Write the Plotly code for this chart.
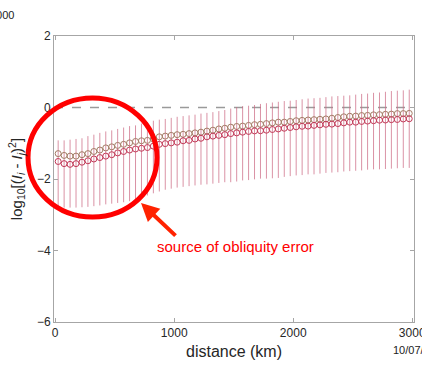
import plotly.graph_objects as go

distance_km = [25, 75, 125, 175, 225, 275, 325, 375, 425, 475,
               525, 575, 625, 675, 725, 775, 825, 875, 925, 975,
               1025, 1075, 1125, 1175, 1225, 1275, 1325, 1375, 1425, 1475,
               1525, 1575, 1625, 1675, 1725, 1775, 1825, 1875, 1925, 1975,
               2025, 2075, 2125, 2175, 2225, 2275, 2325, 2375, 2425, 2475,
               2525, 2575, 2625, 2675, 2725, 2775, 2825, 2875, 2925, 2975]

tan_series = [-1.29, -1.34, -1.36, -1.36, -1.32, -1.29, -1.23, -1.19, -1.13, -1.10,
              -1.06, -1.03, -0.99, -0.95, -0.93, -0.92, -0.88, -0.82, -0.80, -0.78,
              -0.76, -0.75, -0.73, -0.71, -0.69, -0.66, -0.635, -0.60, -0.58, -0.55,
              -0.53, -0.52, -0.50, -0.48, -0.47, -0.45, -0.43, -0.41, -0.41, -0.39,
              -0.37, -0.36, -0.35, -0.34, -0.33, -0.32, -0.30, -0.28, -0.26, -0.245,
              -0.24, -0.225, -0.22, -0.205, -0.20, -0.19, -0.185, -0.17, -0.17, -0.165]

red_series = [-1.51, -1.57, -1.59, -1.57, -1.53, -1.49, -1.44, -1.40, -1.36, -1.32,
              -1.27, -1.23, -1.19, -1.16, -1.14, -1.12, -1.08, -1.03, -1.01, -0.99,
              -0.97, -0.93, -0.92, -0.88, -0.86, -0.82, -0.80, -0.78, -0.76, -0.73,
              -0.71, -0.69, -0.67, -0.655, -0.65, -0.635, -0.615, -0.60, -0.58, -0.56,
              -0.54, -0.525, -0.52, -0.50, -0.485, -0.47, -0.465, -0.45, -0.43, -0.41,
              -0.41, -0.39, -0.38, -0.37, -0.355, -0.35, -0.34, -0.335, -0.32, -0.315]

bar_high = [-0.92, -0.92, -0.90, -0.88, -0.86, -0.80, -0.76, -0.71, -0.67, -0.64,
            -0.60, -0.56, -0.52, -0.50, -0.45, -0.41, -0.37, -0.34, -0.32, -0.29,
            -0.26, -0.24, -0.22, -0.20, -0.17, -0.15, -0.13, -0.10, -0.07, -0.03,
            0.01, 0.04, 0.05, 0.07, 0.10, 0.12, 0.14, 0.16, 0.18, 0.19,
            0.21, 0.23, 0.25, 0.26, 0.27, 0.29, 0.31, 0.32, 0.33, 0.34,
            0.36, 0.38, 0.39, 0.41, 0.42, 0.44, 0.46, 0.47, 0.48, 0.50]

bar_low = [-2.80, -2.80, -2.80, -2.80, -2.79, -2.78, -2.76, -2.74, -2.71, -2.69,
           -2.67, -2.65, -2.62, -2.57, -2.53, -2.46, -2.40, -2.35, -2.30, -2.27,
           -2.24, -2.22, -2.20, -2.18, -2.16, -2.15, -2.13, -2.11, -2.09, -2.09,
           -2.07, -2.04, -2.03, -2.01, -1.99, -1.99, -1.98, -1.97, -1.94, -1.92,
           -1.90, -1.89, -1.87, -1.87, -1.85, -1.83, -1.82, -1.81, -1.79, -1.78,
           -1.77, -1.76, -1.74, -1.73, -1.73, -1.72, -1.71, -1.70, -1.69, -1.69]

x_ticks = [0, 1000, 2000, 3000]
y_ticks = [-6, -4, -2, 0, 2]

FONT = "Liberation Sans, Arial, sans-serif"
AXIS_GREY = "#a6a6a6"

err_plus = [h - r for h, r in zip(bar_high, red_series)]
err_minus = [r - l for r, l in zip(red_series, bar_low)]

fig = go.Figure()

# spread bars (drawn first, under the markers)
fig.add_trace(go.Scatter(
    x=distance_km, y=red_series, mode="markers",
    marker=dict(size=1, opacity=0),
    error_y=dict(type="data", symmetric=False, array=err_plus, arrayminus=err_minus,
                 color="rgba(205,110,135,0.75)", thickness=1, width=0),
    hoverinfo="skip", showlegend=False,
))

fig.add_trace(go.Scatter(
    x=distance_km, y=tan_series, mode="markers",
    marker=dict(symbol="circle-open", size=6, color="#a47c66", line=dict(width=1)),
    showlegend=False,
))

fig.add_trace(go.Scatter(
    x=distance_km, y=red_series, mode="markers",
    marker=dict(symbol="circle-open", size=6, color="#c23a58", line=dict(width=1)),
    showlegend=False,
))

# zero reference line
fig.add_shape(type="line", xref="paper", x0=0, x1=1, yref="y", y0=0, y1=0,
              line=dict(color="#9a9a9a", width=1.5, dash="dash"), layer="below")

# red highlight circle (paper coordinates)
L, R, T, B = 54, 414, 36, 322
def px(xp): return (xp - L) / (R - L)
def py(yp): return (B - yp) / (B - T)

fig.add_shape(type="circle", xref="paper", yref="paper",
              x0=px(28), x1=px(157), y0=py(217), y1=py(98),
              line=dict(color="#ff0000", width=5))

# arrow
fig.add_annotation(xref="paper", yref="paper", x=px(141), y=py(203),
                   ax=36, ay=34, axref="pixel", ayref="pixel",
                   text="", showarrow=True, arrowhead=2, arrowsize=0.9,
                   arrowwidth=4, arrowcolor="#ff2200")

fig.add_annotation(xref="paper", yref="paper", x=px(155), y=py(246),
                   xanchor="left", yanchor="middle", showarrow=False,
                   text="source of obliquity error",
                   font=dict(family=FONT, size=15, color="#ff0000"))

# clipped corner texts from neighbouring panels
fig.add_annotation(xref="paper", yref="paper", x=px(16), y=py(15),
                   xanchor="right", yanchor="middle", showarrow=False,
                   text="3000", font=dict(family=FONT, size=11, color="#222222"))
fig.add_annotation(xref="paper", yref="paper", x=px(391), y=py(350),
                   xanchor="left", yanchor="middle", showarrow=False,
                   text="10/07/2015", font=dict(family=FONT, size=11, color="#222222"))

fig.update_layout(
    width=422, height=370,
    margin=dict(l=L, r=422 - R, t=T, b=370 - B, autoexpand=False),
    paper_bgcolor="white", plot_bgcolor="white",
    font=dict(family=FONT, size=12, color="#262626"),
    xaxis=dict(range=[-10, 3015], tickvals=x_ticks, ticks="inside", ticklen=4,
               tickcolor=AXIS_GREY, showline=True, linecolor=AXIS_GREY, linewidth=1,
               mirror="ticks", showgrid=False, zeroline=False,
               ticklabeloverflow="allow", automargin=False,
               title=dict(text="distance (km)", font=dict(size=16), standoff=6)),
    yaxis=dict(range=[-6, 2], tickvals=y_ticks, ticks="inside", ticklen=4,
               tickcolor=AXIS_GREY, showline=True, linecolor=AXIS_GREY, linewidth=1,
               mirror="ticks", showgrid=False, zeroline=False, automargin=False,
               title=dict(text="log<sub>10</sub>[(<i>I</i><sub><i>i</i></sub> - <i>I</i><sub><i>j</i></sub>)<sup>2</sup>]",
                          font=dict(size=15), standoff=10)),
)

fig.write_html("out.html")
